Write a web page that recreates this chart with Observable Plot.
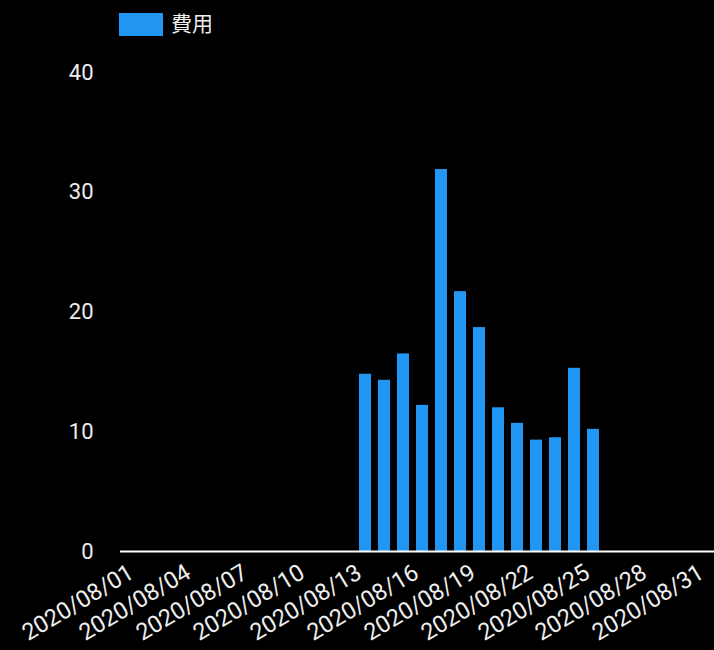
<!DOCTYPE html>
<html>
<head>
<meta charset="utf-8">
<script src="https://cdn.jsdelivr.net/npm/d3@7"></script>
<script src="https://cdn.jsdelivr.net/npm/@observablehq/plot@0.6"></script>
<style>
  html, body { margin: 0; padding: 0; background: #000; overflow: hidden; }
  body { width: 714px; height: 650px; font-family: Roboto, "Noto Sans CJK JP", sans-serif; }
  #legend { position: relative; height: 50px; }
  #legend .sw { position: absolute; left: 119px; top: 13px; width: 44px; height: 23px; background: #2196f3; }
  #legend .lb { position: absolute; left: 171px; top: 10px; font-size: 21px; line-height: 28px; color: #eee; font-family: Roboto, "Noto Sans CJK JP", sans-serif; }
  #chart svg { display: block; }
</style>
</head>
<body>
<div id="legend"><div class="sw"></div><div class="lb">費用</div></div>
<div id="chart"></div>
<script>
const seriesName = "費用";
const dates = d3.range(1, 32).map(d => `2020/08/${String(d).padStart(2, "0")}`);
const costDates = ["2020/08/13","2020/08/14","2020/08/15","2020/08/16","2020/08/17","2020/08/18","2020/08/19","2020/08/20","2020/08/21","2020/08/22","2020/08/23","2020/08/24","2020/08/25"];
const costValues = [14.8, 14.3, 16.5, 12.2, 31.9, 21.7, 18.7, 12.0, 10.7, 9.3, 9.5, 15.3, 10.2];
const yTicks = [0, 10, 20, 30, 40];
const xTicks = dates.filter((d, i) => i % 3 === 0);

const data = costDates.map((d, i) => ({date: d, value: costValues[i]}));

const chart = Plot.plot({
  width: 714,
  height: 600,
  marginLeft: 120,
  marginRight: 0,
  marginTop: 22,
  marginBottom: 99,
  style: {background: "#000", color: "#eee", fontFamily: "Roboto, sans-serif", fontSize: "20px", overflow: "hidden"},
  x: {domain: dates, range: [120, 724.5], paddingInner: 0.385, paddingOuter: 0.1925, align: 0.5, label: null},
  y: {domain: [0, 40], label: null},
  marks: [
    Plot.barY(data, {x: "date", y: "value", fill: "#2196f3"}),
    Plot.ruleY([0], {stroke: "#fff", strokeWidth: 2}),
    Plot.axisY({ticks: yTicks, tickSize: 0, tickPadding: 27, fontSize: 22, fill: "#eee", label: null}),
    Plot.axisX({ticks: xTicks, tickSize: 0, tickPadding: 19, dx: -6, tickRotate: -31, fontSize: 23.5, fill: "#eee", label: null})
  ]
});
document.getElementById("chart").appendChild(chart);
</script>
</body>
</html>
